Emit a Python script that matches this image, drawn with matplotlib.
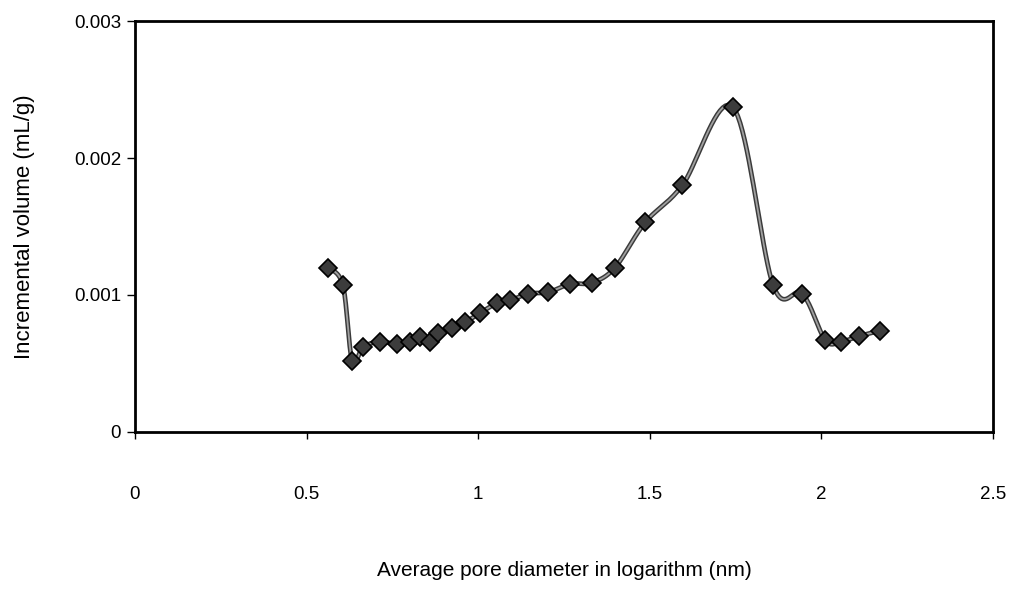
#!/usr/bin/env python

# Incremental pore volume against log pore diameter, drawn
#  in the style of a spreadsheet scatter chart with a smoothed line.

import numpy
import matplotlib
matplotlib.use('Agg')
import matplotlib.pyplot as plt
from matplotlib.ticker import FuncFormatter

# Log of average pore diameter (nm)
log_diameter = [0.563, 0.606, 0.633, 0.665, 0.714, 0.764, 0.802, 0.831,
                0.860, 0.883, 0.924, 0.962, 1.006, 1.055, 1.093, 1.146,
                1.204, 1.268, 1.332, 1.399, 1.487, 1.595, 1.743, 1.860,
                1.945, 2.012, 2.058, 2.111, 2.172]
# Incremental volume (mL/g)
incr_volume = [0.00120, 0.00107, 0.00052, 0.00062, 0.00066, 0.00064,
               0.00066, 0.00069, 0.00066, 0.00072, 0.00076, 0.00080,
               0.00087, 0.00094, 0.00096, 0.00101, 0.00102, 0.00108,
               0.00109, 0.00120, 0.00153, 0.00180, 0.00237, 0.00107,
               0.00101, 0.00067, 0.00066, 0.00070, 0.00074]

x_ticks = [0, 0.5, 1, 1.5, 2, 2.5]
y_ticks = [0, 0.001, 0.002, 0.003]


def smooth_line(x, y, steps=20):
    # Cubic Bezier through the points with Catmull-Rom control points,
    #  the same shape a spreadsheet "smoothed line" gives.
    x = numpy.asarray(x, dtype=float)
    y = numpy.asarray(y, dtype=float)
    px = numpy.concatenate([[x[0]], x, [x[-1]]])
    py = numpy.concatenate([[y[0]], y, [y[-1]]])
    t = numpy.linspace(0, 1, steps)[:, None]
    xs, ys = [], []
    for i in range(1, len(px) - 2):
        p0 = numpy.array([px[i], py[i]])
        p3 = numpy.array([px[i + 1], py[i + 1]])
        c1 = p0 + (numpy.array([px[i + 1], py[i + 1]]) -
                   numpy.array([px[i - 1], py[i - 1]])) / 6.0
        c2 = p3 - (numpy.array([px[i + 2], py[i + 2]]) -
                   numpy.array([px[i], py[i]])) / 6.0
        seg = ((1 - t) ** 3) * p0 + 3 * ((1 - t) ** 2) * t * c1 + \
              3 * (1 - t) * (t ** 2) * c2 + (t ** 3) * p3
        xs.extend(seg[:, 0])
        ys.extend(seg[:, 1])
    return numpy.array(xs), numpy.array(ys)


plt.rcParams['font.family'] = ['Liberation Sans', 'DejaVu Sans']

fig = plt.figure(figsize=(10.11, 5.89), dpi=100, facecolor='white')
ax = fig.add_axes([0.1335, 0.2666, 0.8485, 0.6977])

sx, sy = smooth_line(log_diameter, incr_volume)
ax.plot(sx, sy, color='#3a3a3a', linewidth=3.4, zorder=2)
ax.plot(sx, sy, color='#a0a0a0', linewidth=1.3, zorder=2)
ax.plot(log_diameter, incr_volume, linestyle='none', marker='D',
        markersize=9.5, markerfacecolor='#3c3c3c', markeredgecolor='black',
        markeredgewidth=1.2, zorder=3)

ax.set_xlim(0, 2.5)
ax.set_ylim(0, 0.003)
ax.set_xticks(x_ticks)
ax.set_yticks(y_ticks)
fmt = FuncFormatter(lambda v, pos: '%g' % v)
ax.xaxis.set_major_formatter(fmt)
ax.yaxis.set_major_formatter(fmt)

for side in ['left', 'right', 'top', 'bottom']:
    ax.spines[side].set_linewidth(2.0)
    ax.spines[side].set_color('black')

ax.tick_params(axis='x', direction='out', length=5, width=1,
               pad=34, labelsize=13.5)
ax.tick_params(axis='y', direction='out', length=6, width=1,
               pad=4, labelsize=13.5)

ax.set_ylabel('Incremental volume (mL/g)', fontsize=16, labelpad=28)
ax.set_xlabel('Average pore diameter in logarithm (nm)', fontsize=15,
              labelpad=42)

fig.savefig('out.png', dpi=100, facecolor='white')
